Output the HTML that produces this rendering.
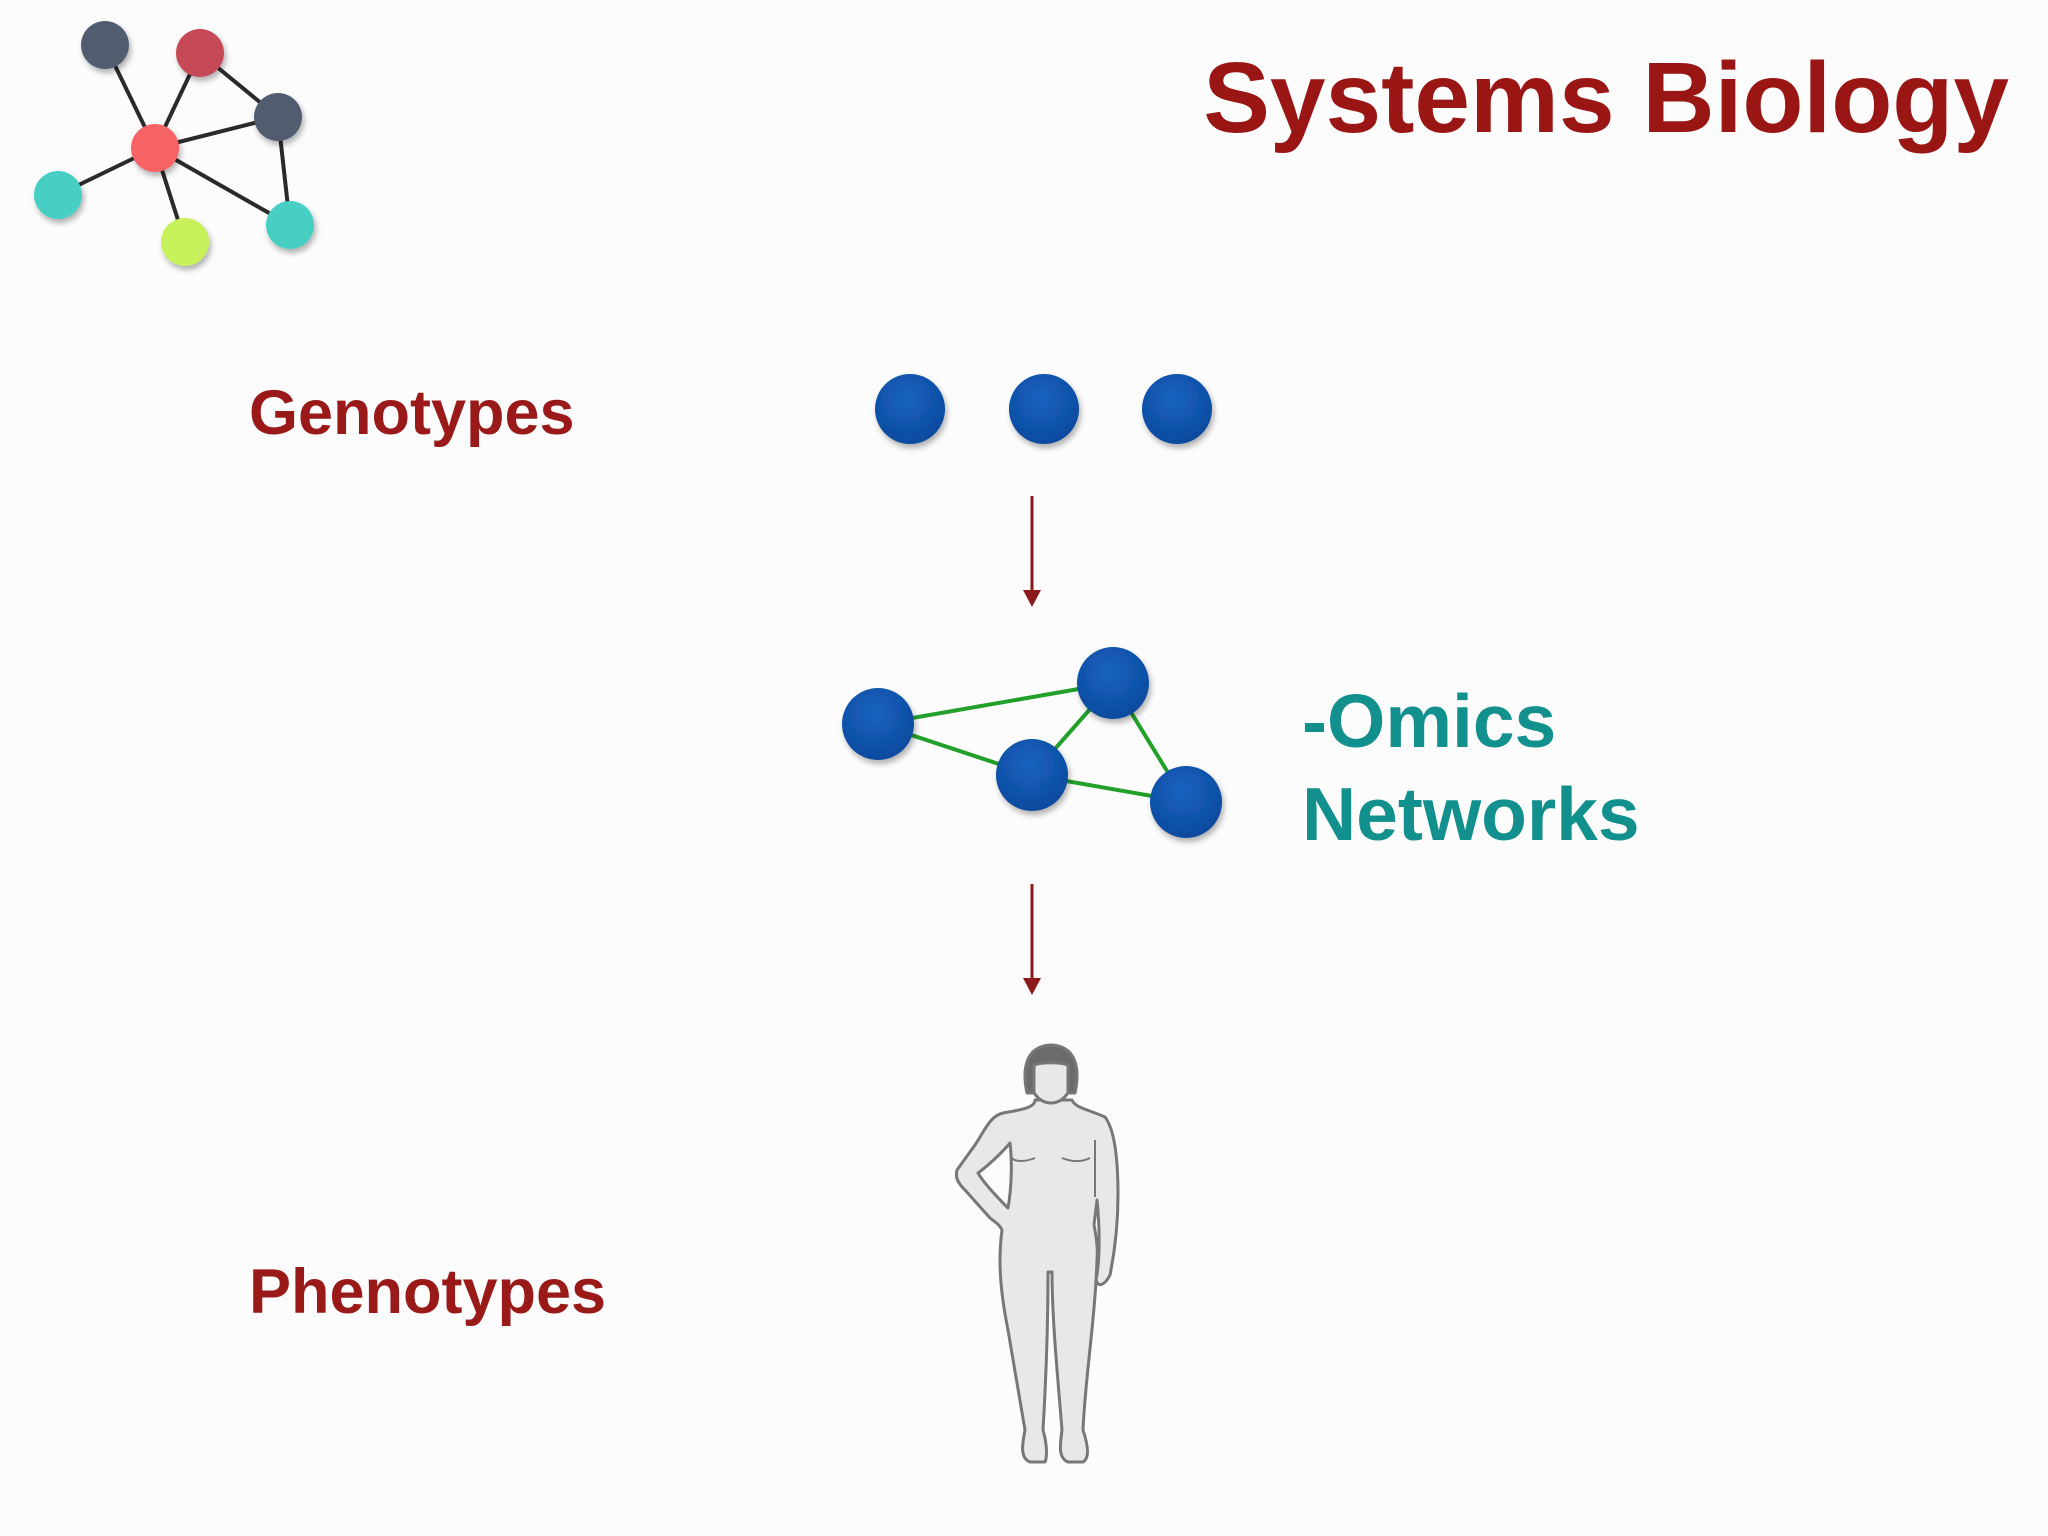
<!DOCTYPE html>
<html><head><meta charset="utf-8"><style>
html,body{margin:0;padding:0;background:#fcfcfc;}
svg{display:block}
</style></head><body>
<svg width="2048" height="1536" viewBox="0 0 2048 1536" xmlns="http://www.w3.org/2000/svg">
<defs>
<filter id="sh" x="-50%" y="-50%" width="200%" height="200%"><feDropShadow dx="2" dy="4" stdDeviation="3" flood-color="#000" flood-opacity="0.3"/></filter>
<radialGradient id="bl" cx="45%" cy="35%" r="65%"><stop offset="0" stop-color="#1a63c0"/><stop offset="1" stop-color="#0a4a9e"/></radialGradient>
</defs>
<rect width="2048" height="1536" fill="#fcfcfc"/>
<!-- logo -->
<g stroke="#2a2a2a" stroke-width="4">
<line x1="155" y1="148" x2="105" y2="45"/><line x1="155" y1="148" x2="200" y2="53"/>
<line x1="155" y1="148" x2="278" y2="117"/><line x1="155" y1="148" x2="58" y2="195"/>
<line x1="155" y1="148" x2="185" y2="242"/><line x1="155" y1="148" x2="290" y2="225"/>
<line x1="200" y1="53" x2="278" y2="117"/><line x1="278" y1="117" x2="290" y2="225"/>
</g>
<g filter="url(#sh)">
<circle cx="105" cy="45" r="24" fill="#515d6e"/><circle cx="200" cy="53" r="24" fill="#c64a58"/>
<circle cx="278" cy="117" r="24" fill="#515d6e"/><circle cx="155" cy="148" r="24" fill="#f66465"/>
<circle cx="58" cy="195" r="24" fill="#47cfc3"/><circle cx="185" cy="242" r="24" fill="#c7f25b"/>
<circle cx="290" cy="225" r="24" fill="#47cfc3"/>
</g>
<text x="2009" y="132" text-anchor="end" font-family="Liberation Sans, sans-serif" font-weight="bold" font-size="100" fill="#9a1614">Systems Biology</text>
<g font-family="Liberation Sans, sans-serif" font-weight="bold">
<text x="249" y="434" font-size="63" fill="#9a1a1a">Genotypes</text>
<text x="249" y="1313" font-size="63" fill="#9a1a1a">Phenotypes</text>
<text x="1302" y="747" font-size="75" fill="#12908e">-Omics</text>
<text x="1302" y="840" font-size="75" fill="#12908e">Networks</text>
</g>
<g filter="url(#sh)" fill="url(#bl)">
<circle cx="910" cy="409" r="35"/><circle cx="1044" cy="409" r="35"/><circle cx="1177" cy="409" r="35"/>
</g>
<g stroke="#8b1a1a" stroke-width="3"><line x1="1032" y1="496" x2="1032" y2="592"/><line x1="1032" y1="884" x2="1032" y2="980"/></g>
<g fill="#8b1a1a"><polygon points="1023,590 1041,590 1032,607"/><polygon points="1023,978 1041,978 1032,995"/></g>
<g stroke="#22a02a" stroke-width="4">
<line x1="878" y1="724" x2="1113" y2="683"/><line x1="878" y1="724" x2="1032" y2="775"/>
<line x1="1032" y1="775" x2="1113" y2="683"/><line x1="1113" y1="683" x2="1186" y2="802"/>
<line x1="1032" y1="775" x2="1186" y2="802"/>
</g>
<g filter="url(#sh)" fill="url(#bl)">
<circle cx="878" cy="724" r="36"/><circle cx="1113" cy="683" r="36"/><circle cx="1032" cy="775" r="36"/><circle cx="1186" cy="802" r="36"/>
</g>
<!-- figure -->
<g stroke="#777" stroke-width="3" stroke-linejoin="round">
<path fill="#e8e8eb" d="M1035,1100 C1035,1108 1020,1110 1003,1113 C990,1116 985,1130 975,1145 L957,1170 C955,1178 958,1183 965,1190 L990,1218 C995,1222 1000,1225 1002,1230 C998,1260 1000,1290 1008,1330 C1015,1370 1020,1400 1025,1430 C1022,1445 1020,1458 1030,1462 L1045,1462 C1048,1455 1046,1440 1043,1430 C1046,1380 1048,1320 1048,1272 L1052,1272 C1052,1320 1058,1380 1062,1430 C1060,1445 1058,1458 1068,1462 L1083,1462 C1090,1458 1088,1445 1083,1430 C1085,1380 1095,1320 1097,1260 C1098,1250 1097,1240 1094,1225 L1097,1200 C1100,1230 1100,1260 1096,1280 C1098,1288 1105,1285 1110,1275 C1115,1250 1118,1220 1118,1195 C1118,1160 1115,1130 1105,1117 C1090,1110 1075,1108 1072,1100 Z"/>
<path fill="#fcfcfc" d="M1010,1143 C1000,1155 985,1168 978,1173 C985,1185 1000,1200 1008,1208 C1012,1185 1012,1160 1010,1143 Z"/>
<path fill="none" stroke-width="2" d="M1012,1158 C1015,1162 1025,1162 1035,1158 M1062,1158 C1072,1162 1082,1162 1090,1158 M1095,1140 L1095,1197"/>
<ellipse cx="1051" cy="1075" rx="22" ry="28" fill="#e8e8eb"/>
<path fill="#6b6b6b" d="M1027,1093 C1022,1070 1025,1046 1051,1045 C1077,1046 1080,1070 1075,1093 L1068,1093 L1068,1065 C1060,1062 1042,1062 1034,1065 L1034,1093 Z"/>
</g>
</svg>
</body></html>
